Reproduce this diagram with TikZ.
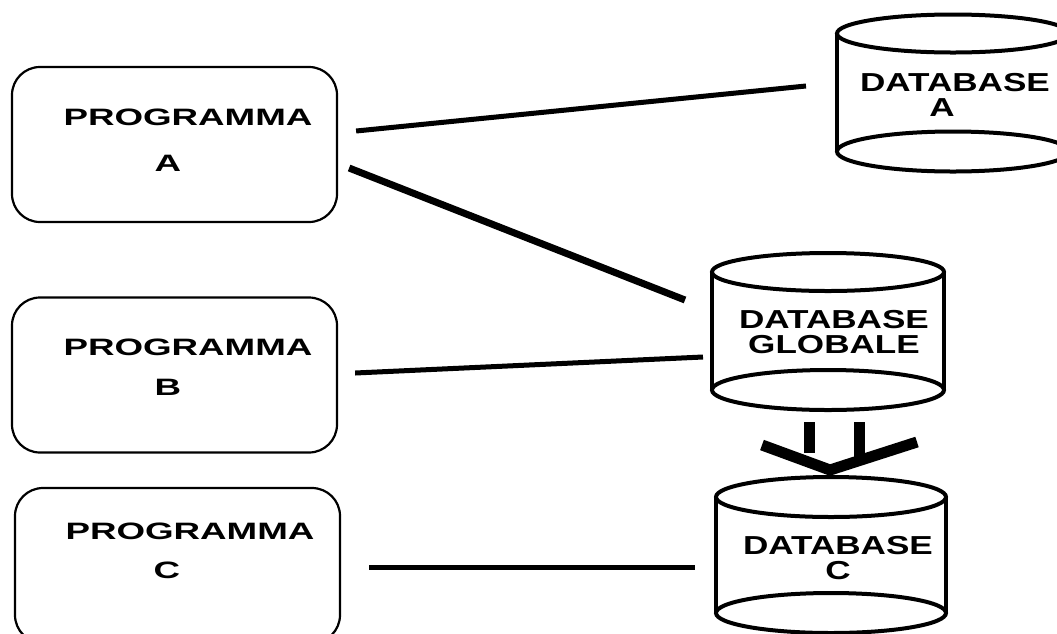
\documentclass[tikz,border=0pt]{standalone}
\usepackage{fontspec}
\setmainfont{Liberation Sans}
\usepackage{graphicx}

\newcommand{\wide}[2][1.55]{\scalebox{#1}[1]{#2}}

\tikzset{
    prgbox/.style={draw, line width=2.2pt, rounded corners=28pt,
        minimum width=325pt, minimum height=155pt, inner sep=0pt},
    prgname/.style={inner sep=0pt, font=\fontsize{23.7}{26}\selectfont\bfseries},
    dbbody/.style={minimum width=232pt, minimum height=118pt, inner sep=0pt, outer sep=0pt},
    dbline/.style={line width=4pt},
    dbname/.style={inner sep=0pt, align=center, font=\fontsize{26}{25}\selectfont\bfseries},
    link/.style={line width=5pt},
    flowline/.style={line width=11pt, line join=bevel}
}

\begin{document}
\begin{tikzpicture}[x=1pt, y=-1pt]

    \useasboundingbox (0,0) rectangle (1057,633);

    %% Programs

    % Programma A
    \node[prgbox] (progA) at (174.5,144.5) {};
    \node[prgname] (progAname) at (188,117) {\wide{PROGRAMMA}};
    \node[prgname] (progAid) at (168,163) {\wide{A}};

    % Programma B
    \node[prgbox] (progB) at (174.5,375) {};
    \node[prgname] (progBname) at (188,347) {\wide{PROGRAMMA}};
    \node[prgname] (progBid) at (168,387) {\wide{B}};

    % Programma C
    \node[prgbox] (progC) at (177.5,565.5) {};
    \node[prgname] (progCname) at (190,531) {\wide{PROGRAMMA}};
    \node[prgname] (progCid) at (167,570) {\wide{C}};

    %% Databases

    % Database A
    \node[dbbody] (dbA) at (953,92.5) {};
    \draw[dbline] (dbA.north) ellipse [x radius=116, y radius=19];
    \draw[dbline] (dbA.south) ellipse [x radius=116, y radius=20];
    \draw[dbline] (dbA.north west) -- (dbA.south west);
    \draw[dbline] (dbA.north east) -- (dbA.south east);
    \node[dbname] (dbAname) at ([xshift=2pt, yshift=-2.5pt]dbA.center)
        {\wide[1.35]{DATABASE}\\\wide[1.35]{A}\hspace*{26pt}};

    % Database globale
    \node[dbbody] (dbG) at (828,331) {};
    \draw[dbline] (dbG.north) ellipse [x radius=116, y radius=19];
    \draw[dbline] (dbG.south) ellipse [x radius=116, y radius=20];
    \draw[dbline] (dbG.north west) -- (dbG.south west);
    \draw[dbline] (dbG.north east) -- (dbG.south east);
    \node[dbname] (dbGname) at ([xshift=6pt, yshift=-1pt]dbG.center)
        {\wide[1.35]{DATABASE}\\\wide[1.35]{GLOBALE}};

    % Database C
    \node[dbbody, minimum width=230pt, minimum height=116pt] (dbC) at (831,555) {};
    \draw[dbline] (dbC.north) ellipse [x radius=115, y radius=20];
    \draw[dbline] (dbC.south) ellipse [x radius=115, y radius=20];
    \draw[dbline] (dbC.north west) -- (dbC.south west);
    \draw[dbline] (dbC.north east) -- (dbC.south east);
    \node[dbname] (dbCname) at ([xshift=7pt, yshift=-3pt]dbC.center)
        {\wide[1.35]{DATABASE}\\\wide[1.35]{C}};

    %% Links
    \draw[link] ([shift={(18,-13.5)}]progA.east) -- ([shift={(-31,-6.5)}]dbA.west);
    \draw[link, line width=7pt] ([shift={(11,23.5)}]progA.east) -- ([shift={(-27,-31)}]dbG.west);
    \draw[link] ([shift={(17,-2)}]progB.east) -- ([shift={(-9,26)}]dbG.west);
    \draw[link] ([shift={(28,1.5)}]progC.east) -- ([shift={(-21,12)}]dbC.west);

    % Copy down to database C
    \coordinate (flow) at (834,446);
    \draw[flowline] (flow) ++(-25,-24) -- ++(0,31);
    \draw[flowline] (flow) ++(25,-24) -- ++(0,35);
    \draw[flowline] (flow) ++(-72,-1) -- ++(68,25) -- ++(87,-28);

\end{tikzpicture}
\end{document}
